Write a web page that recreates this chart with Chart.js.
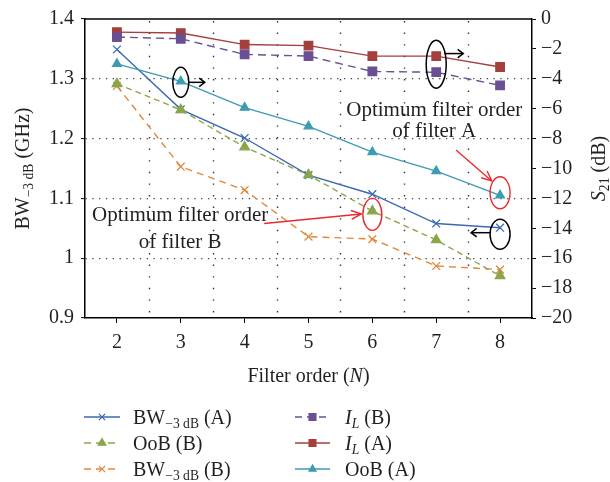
<!DOCTYPE html>
<html><head><meta charset="utf-8">
<script src="https://cdn.jsdelivr.net/npm/chart.js@4/dist/chart.umd.min.js"></script>
<style>html,body{margin:0;padding:0;background:#fff}#wrap{width:610px;height:482px;position:relative}</style>
</head><body><div id="wrap"><canvas id="c" width="610" height="482"></canvas></div>
<script>
// ---- data ----
const categories = [2, 3, 4, 5, 6, 7, 8];
const bwA  = [1.349, 1.249, 1.201, 1.139, 1.107, 1.058, 1.051];   // GHz (left axis)
const bwB  = [1.288, 1.153, 1.114, 1.036, 1.032, 0.987, 0.981];   // GHz (left axis)
const oobA = [-3.0, -4.17, -5.93, -7.18, -8.9, -10.17, -11.8];    // dB (right axis)
const oobB = [-4.33, -6.08, -8.57, -10.43, -12.85, -14.78, -17.18];
const ilA  = [-0.88, -0.94, -1.71, -1.78, -2.48, -2.48, -3.21];
const ilB  = [-1.21, -1.32, -2.37, -2.48, -3.51, -3.56, -4.44];
const leftTicks = [0.9, 1.0, 1.1, 1.2, 1.3, 1.4];
const rightTicks = [-20, -18, -16, -14, -12, -10, -8, -6, -4, -2, 0];

const FONT = '"Liberation Serif", "DejaVu Serif", serif';
const TXT = '#231f20';
const pts = arr => arr.map((v, i) => ({x: categories[i], y: v}));

const C = {
  blue: '#3b69b2', green: '#8aa64a', orange: '#e0883c',
  purple: '#6a4f94', red: '#a53f3d', teal: '#3c9cb2'
};

const datasets = [
  {key:'ilB', label:'IL (B)', data: pts(ilB), yAxisID:'y1', borderColor:C.purple, backgroundColor:C.purple, borderDash:[8,5], pointStyle:'rect', pointRadius:6},
  {key:'ilA', label:'IL (A)', data: pts(ilA), yAxisID:'y1', borderColor:C.red, backgroundColor:C.red, borderDash:[], pointStyle:'rect', pointRadius:6},
  {key:'oobA', label:'OoB (A)', data: pts(oobA), yAxisID:'y1', borderColor:C.teal, backgroundColor:C.teal, borderDash:[], pointStyle:'triangle', pointRadius:5},
  {key:'oobB', label:'OoB (B)', data: pts(oobB), yAxisID:'y1', borderColor:C.green, backgroundColor:C.green, borderDash:[6,4], pointStyle:'triangle', pointRadius:5.5},
  {key:'bwB', label:'BW (B)', data: pts(bwB), yAxisID:'y', borderColor:C.orange, backgroundColor:C.orange, borderDash:[7,5], pointStyle:'crossRot', pointRadius:5.5},
  {key:'bwA', label:'BW (A)', data: pts(bwA), yAxisID:'y', borderColor:C.blue, backgroundColor:C.blue, borderDash:[], pointStyle:'crossRot', pointRadius:5.5}
].map(d => Object.assign({borderWidth:1.4, pointBorderWidth:1.3, pointBorderColor:d.borderColor, pointBackgroundColor:d.backgroundColor, fill:false, tension:0}, d));

function setFont(ctx, size, italic){ ctx.font = (italic ? 'italic ' : '') + size + 'px ' + FONT; }
function richWidth(ctx, parts, size){
  let w = 0;
  for (const p of parts){ setFont(ctx, p.sub ? size*0.68 : size, p.it); w += ctx.measureText(p.t).width; }
  return w;
}
function drawRich(ctx, parts, x, y, size, align){
  const w = richWidth(ctx, parts, size);
  let cx = align === 'center' ? x - w/2 : x;
  ctx.textAlign = 'left'; ctx.textBaseline = 'alphabetic';
  for (const p of parts){
    setFont(ctx, p.sub ? size*0.68 : size, p.it);
    ctx.fillText(p.t, cx, y + (p.sub ? size*0.22 : 0));
    cx += ctx.measureText(p.t).width;
  }
}
const BW = s => [{t:'BW'},{t:'\u22123 dB',sub:true},{t:s}];
const IL = s => [{t:'I',it:true},{t:'L',it:true,sub:true},{t:s}];
const legendItems = [
  {key:'bwA', parts: BW(' (A)'), col:0, row:0},
  {key:'oobB', parts:[{t:'OoB (B)'}], col:0, row:1},
  {key:'bwB', parts: BW(' (B)'), col:0, row:2},
  {key:'ilB', parts: IL(' (B)'), col:1, row:0},
  {key:'ilA', parts: IL(' (A)'), col:1, row:1},
  {key:'oobA', parts:[{t:'OoB (A)'}], col:1, row:2}
];

function ellipse(ctx, cx, cy, rx, ry){ ctx.beginPath(); ctx.ellipse(cx, cy, rx, ry, 0, 0, Math.PI*2); ctx.stroke(); }
function arrow(ctx, x1, y1, x2, y2, head, ang){
  ctx.beginPath(); ctx.moveTo(x1, y1); ctx.lineTo(x2, y2); ctx.stroke();
  const a = Math.atan2(y2 - y1, x2 - x1);
  ctx.beginPath();
  ctx.moveTo(x2 - head*Math.cos(a - ang), y2 - head*Math.sin(a - ang));
  ctx.lineTo(x2, y2);
  ctx.lineTo(x2 - head*Math.cos(a + ang), y2 - head*Math.sin(a + ang));
  ctx.stroke();
}

const decor = {
  id: 'decor',
  beforeDatasetsDraw(chart){
    // vertical dotted grid lines at the boundaries between categories
    const ctx = chart.ctx, s = chart.scales, a = chart.chartArea;
    ctx.save();
    ctx.strokeStyle = '#333'; ctx.lineWidth = 1.4; ctx.setLineDash([1.4, 10.2]);
    for (let i = 1; i < categories.length; i++){
      const x = Math.round(s.x.getPixelForValue((categories[i] + categories[i-1])/2)) + 0.5;
      ctx.beginPath(); ctx.moveTo(x, a.top + 2); ctx.lineTo(x, a.bottom); ctx.stroke();
    }
    ctx.restore();
  },
  afterDraw(chart){
    const ctx = chart.ctx, s = chart.scales, a = chart.chartArea;
    const X = v => s.x.getPixelForValue(v), YL = v => s.y.getPixelForValue(v), YR = v => s.y1.getPixelForValue(v);
    ctx.save();
    ctx.setLineDash([]);
    // top frame line
    ctx.strokeStyle = '#000'; ctx.lineWidth = 1.3;
    ctx.beginPath(); ctx.moveTo(a.left, a.top); ctx.lineTo(a.right, a.top); ctx.stroke();
    // black ellipses + arrows
    ctx.strokeStyle = '#000'; ctx.lineWidth = 1.5;
    let cx = X(3), cy = YR(oobA[1]) + 1;
    ellipse(ctx, cx, cy, 8, 15); arrow(ctx, cx + 8, cy, cx + 24, cy, 7, 0.65);
    cx = X(7); cy = (YR(ilA[5]) + YR(ilB[5]))/2;
    ellipse(ctx, cx, cy, 10, 24); arrow(ctx, cx + 8, YR(ilA[5]) - 2.5, cx + 27, YR(ilA[5]) - 2.5, 7, 0.65);
    cx = X(8); cy = YL(bwA[6]) + 6.5;
    ellipse(ctx, cx, cy, 10, 15); arrow(ctx, cx - 9, cy - 1.5, cx - 29, cy - 1.5, 7, 0.65);
    // red ellipses + arrows
    ctx.strokeStyle = '#ea2a2e'; ctx.lineWidth = 1.4;
    ellipse(ctx, X(8), YR(oobA[6]) - 2.6, 10, 16);
    ellipse(ctx, X(6), YR(oobB[4]) + 3.3, 9.5, 16);
    arrow(ctx, X(7.31), YR(-8.76), X(7.87), YR(-10.83), 11, 0.42);
    arrow(ctx, X(4.305), YL(1.058), X(5.826), YL(1.074), 11, 0.42);
    // annotation text
    ctx.fillStyle = TXT;
    const fs = 21;
    drawRich(ctx, [{t:'Optimum filter order'}], X(6.97), YR(-6) + 7, fs, 'center');
    drawRich(ctx, [{t:'of filter A'}], X(6.97), YR(-7.43) + 7, fs, 'center');
    drawRich(ctx, [{t:'Optimum filter order'}], X(2.99), YL(1.0738) + 7, fs, 'center');
    drawRich(ctx, [{t:'of filter B'}], X(2.99), YL(1.0293) + 7, fs, 'center');
    // axis titles
    const midY = (a.top + a.bottom)/2;
    ctx.save(); ctx.translate(22, midY); ctx.rotate(-Math.PI/2);
    drawRich(ctx, [{t:'BW'},{t:'\u22123 dB',sub:true},{t:' (GHz)'}], 0, 6.5, 20, 'center');
    ctx.restore();
    ctx.save(); ctx.translate(598, midY); ctx.rotate(-Math.PI/2);
    drawRich(ctx, [{t:'S',it:true},{t:'21',sub:true},{t:' (dB)'}], 0, 6.5, 20, 'center');
    ctx.restore();
    drawRich(ctx, [{t:'Filter order ('},{t:'N',it:true},{t:')'}], (a.left + a.right)/2, 382, 20, 'center');
    // legend
    const colX = [[84, 120, 133], [295, 330, 345]];
    const rowY = [417, 443, 469];
    for (const it of legendItems){
      const ds = chart.data.datasets.find(d => d.key === it.key);
      const [x0, x1, tx] = colX[it.col], y = rowY[it.row];
      ctx.strokeStyle = ds.borderColor; ctx.lineWidth = 1.4;
      ctx.setLineDash(ds.borderDash.length ? [7, 5] : []);
      ctx.beginPath(); ctx.moveTo(x0, y); ctx.lineTo(x1, y); ctx.stroke();
      ctx.setLineDash([]);
      ctx.fillStyle = ds.backgroundColor; ctx.lineWidth = 1.3;
      Chart.helpers.drawPoint(ctx, {pointStyle: ds.pointStyle, radius: ds.pointRadius*0.8, rotation: 0, borderWidth: 1.3}, (x0 + x1)/2, y);
      ctx.fillStyle = TXT;
      drawRich(ctx, it.parts, tx, y + 6.5, 20, 'left');
    }
    ctx.restore();
  }
};

const tickFont = {family: FONT, size: 20};
const near = (a, b) => Math.abs(a - b) < 1e-6;

new Chart(document.getElementById('c'), {
  type: 'line',
  data: {datasets},
  options: {
    responsive: false, animation: false,
    layout: {padding: {top: 15, left: 0, right: 0, bottom: 0}},
    plugins: {legend: {display: false}, tooltip: {enabled: false}},
    scales: {
      x: {
        type: 'linear', position: 'bottom', min: 1.5, max: 8.5,
        afterBuildTicks: sc => { sc.ticks = categories.map(v => ({value: v})); },
        afterFit: sc => { sc.height = 164; },
        ticks: {font: tickFont, color: TXT, padding: 8, maxRotation: 0, autoSkip: false, callback: v => String(v)},
        grid: {drawOnChartArea: false, drawTicks: true, tickLength: 5, tickColor: '#000', tickWidth: 1},
        border: {color: '#000', width: 1.5}
      },
      y: {
        type: 'linear', position: 'left', min: 0.9, max: 1.4,
        afterBuildTicks: sc => { sc.ticks = leftTicks.map(v => ({value: v})); },
        afterFit: sc => { sc.width = 85; },
        ticks: {font: tickFont, color: TXT, padding: 7, callback: v => String(Math.round(v*10)/10)},
        grid: {color: c => (c.tick && (near(c.tick.value, 1.4) || near(c.tick.value, 0.9))) ? 'rgba(0,0,0,0)' : '#444',
               lineWidth: 1.2, tickColor: '#000', tickLength: 4, tickWidth: 1},
        border: {color: '#000', width: 1.5, dash: [1.3, 5.5]}
      },
      y1: {
        type: 'linear', position: 'right', min: -20, max: 0,
        afterBuildTicks: sc => { sc.ticks = rightTicks.map(v => ({value: v})); },
        afterFit: sc => { sc.width = 78; },
        ticks: {font: tickFont, color: TXT, padding: 5, callback: v => v < 0 ? '\u2212' + (-v) : String(v)},
        grid: {drawOnChartArea: false, tickColor: '#000', tickLength: 4, tickWidth: 1},
        border: {color: '#000', width: 1.5}
      }
    }
  },
  plugins: [decor]
});
</script>
</body></html>
